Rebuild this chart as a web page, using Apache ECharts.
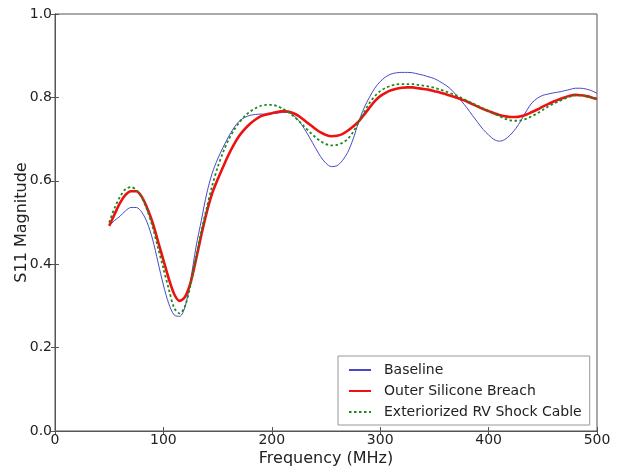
<!DOCTYPE html>
<html><head><meta charset="utf-8">
<script src="https://cdn.jsdelivr.net/npm/echarts@6/dist/echarts.min.js"></script>
<style>html,body{margin:0;padding:0;background:#fff}#c{width:618px;height:470px}</style>
</head><body><div id="c"></div>
<script>
const freq = [50,55,60,65,70,75,80,85,90,95,100,105,110,115,120,125,130,135,140,145,150,155,160,165,170,175,180,185,190,195,200,205,210,215,220,225,230,235,240,245,250,255,260,265,270,275,280,285,290,295,300,305,310,315,320,325,330,335,340,345,350,355,360,365,370,375,380,385,390,395,400,405,410,415,420,425,430,435,440,445,450,455,460,465,470,475,480,485,490,495,500];
const baseline = [0.492,0.505,0.515,0.528,0.536,0.536,0.525,0.50,0.46,0.405,0.35,0.305,0.278,0.275,0.298,0.36,0.44,0.505,0.57,0.618,0.652,0.68,0.705,0.727,0.743,0.752,0.757,0.759,0.76,0.76,0.761,0.762,0.764,0.764,0.757,0.744,0.725,0.703,0.68,0.658,0.642,0.634,0.636,0.648,0.668,0.70,0.74,0.774,0.80,0.822,0.838,0.849,0.856,0.859,0.86,0.86,0.859,0.856,0.853,0.849,0.845,0.838,0.83,0.82,0.806,0.791,0.775,0.757,0.74,0.723,0.71,0.699,0.695,0.699,0.71,0.725,0.745,0.768,0.787,0.798,0.805,0.808,0.811,0.813,0.816,0.819,0.822,0.822,0.82,0.816,0.81];
const breach = [0.492,0.52,0.547,0.566,0.575,0.575,0.562,0.535,0.50,0.455,0.41,0.365,0.328,0.312,0.322,0.355,0.41,0.47,0.525,0.57,0.603,0.633,0.662,0.687,0.708,0.724,0.737,0.747,0.755,0.759,0.762,0.765,0.767,0.766,0.762,0.755,0.745,0.735,0.725,0.716,0.71,0.707,0.708,0.712,0.72,0.73,0.742,0.758,0.775,0.791,0.803,0.811,0.817,0.821,0.823,0.824,0.824,0.822,0.82,0.818,0.815,0.812,0.808,0.804,0.80,0.795,0.79,0.784,0.778,0.772,0.767,0.762,0.758,0.755,0.753,0.753,0.755,0.759,0.765,0.771,0.778,0.784,0.79,0.795,0.80,0.804,0.806,0.805,0.803,0.80,0.796];
const cable = [0.50,0.535,0.562,0.58,0.585,0.578,0.56,0.53,0.49,0.44,0.39,0.34,0.295,0.282,0.30,0.35,0.415,0.48,0.535,0.588,0.632,0.668,0.698,0.721,0.74,0.755,0.766,0.774,0.78,0.782,0.782,0.779,0.773,0.765,0.755,0.743,0.73,0.717,0.705,0.695,0.688,0.685,0.686,0.691,0.70,0.717,0.74,0.764,0.786,0.803,0.815,0.823,0.828,0.831,0.832,0.832,0.832,0.83,0.828,0.826,0.823,0.819,0.815,0.81,0.805,0.799,0.792,0.786,0.78,0.774,0.768,0.761,0.755,0.749,0.745,0.744,0.745,0.749,0.755,0.762,0.77,0.778,0.785,0.791,0.797,0.802,0.805,0.805,0.803,0.80,0.797];
const names = ['Baseline','Outer Silicone Breach','Exteriorized RV Shock Cable'];
const xTicks = [0,100,200,300,400,500];
const yTicks = [0.0,0.2,0.4,0.6,0.8,1.0];

const pair = arr => freq.map((f,i)=>[f,arr[i]]);
const font = 'DejaVu Sans';
const chart = echarts.init(document.getElementById('c'), null, {renderer:'canvas'});
const axisLine = {show:true, lineStyle:{color:'#555', width:1}};
const tick = {show:true, inside:true, length:4, lineStyle:{color:'#555'}};
chart.setOption({
  animation:false,
  backgroundColor:'#fff',
  grid:{left:55, right:21, top:14, bottom:39, show:true, borderColor:'#555', borderWidth:1,
        containLabel:false, outerBoundsMode:'none'},
  legend:{
    orient:'vertical', left:338, top:356,
    padding:[7,8,6,10], itemGap:7, itemWidth:22, itemHeight:14,
    borderColor:'#999', borderWidth:1, backgroundColor:'#fff',
    itemStyle:{opacity:0},
    textStyle:{fontFamily:font, fontSize:14, color:'#222', padding:[0,0,0,8]},
    data:names
  },
  xAxis:[{
    type:'value', min:xTicks[0], max:xTicks[xTicks.length-1], interval:100,
    name:'Frequency (MHz)', nameLocation:'middle', nameGap:20, nameMoveOverlap:false,
    nameTextStyle:{fontFamily:font, fontSize:16, color:'#222'},
    axisLine:axisLine, axisTick:tick,
    axisLabel:{fontFamily:font, fontSize:14, color:'#222', margin:2},
    splitLine:{show:false}
  },{
    type:'value', min:0, max:500, interval:100, position:'top',
    axisLine:axisLine, axisTick:tick, axisLabel:{show:false}, splitLine:{show:false}
  }],
  yAxis:[{
    type:'value', min:yTicks[0], max:yTicks[yTicks.length-1], interval:0.2,
    name:'S11 Magnitude', nameLocation:'middle', nameGap:25, nameMoveOverlap:false,
    nameTextStyle:{fontFamily:font, fontSize:16, color:'#222'},
    axisLine:axisLine, axisTick:tick,
    axisLabel:{fontFamily:font, fontSize:14, color:'#222', margin:3, formatter:v=>v.toFixed(1)},
    splitLine:{show:false}
  },{
    type:'value', min:0, max:1, interval:0.2, position:'right',
    axisLine:axisLine, axisTick:tick, axisLabel:{show:false}, splitLine:{show:false}
  }],
  series:[
    {name:names[0], type:'line', data:pair(baseline), smooth:0.3, symbol:'none',
     lineStyle:{color:'#4848c8', width:1}, itemStyle:{color:'#4848c8'}, z:3},
    {name:names[1], type:'line', data:pair(breach), smooth:0.3, symbol:'none',
     lineStyle:{color:'#ee1111', width:2.6}, itemStyle:{color:'#ee1111'}, z:4},
    {name:names[2], type:'line', data:pair(cable), smooth:0.3, symbol:'none',
     lineStyle:{color:'#1a8a1a', width:1.8, type:[2.5,2.5]}, itemStyle:{color:'#1a8a1a'}, z:5}
  ]
});
</script></body></html>
